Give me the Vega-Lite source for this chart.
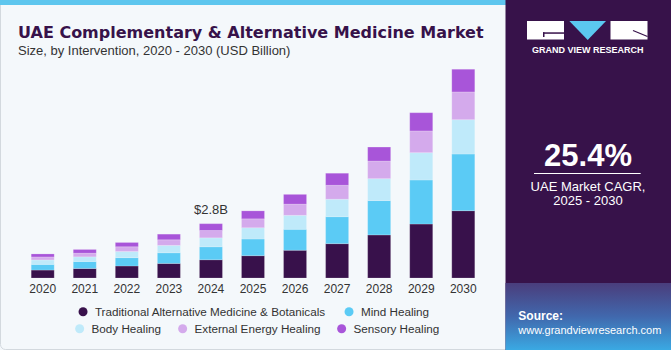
{
  "$schema": "https://vega.github.io/schema/vega-lite/v6.json",
  "width": 671,
  "height": 350,
  "autosize": {"type": "none"},
  "padding": 0,
  "background": "#f4f8fb",
  "config": {"view": {"stroke": null}, "font": "Liberation Sans"},
  "title": {
    "text": "UAE Complementary & Alternative Medicine Market",
    "subtitle": "Size, by Intervention, 2020 - 2030 (USD Billion)",
    "anchor": "start",
    "frame": "group",
    "orient": "top",
    "offset": -58,
    "dx": 18,
    "font": "DejaVu Sans",
    "fontSize": 16,
    "fontWeight": "bold",
    "color": "#37124a",
    "subtitleFont": "Liberation Sans",
    "subtitleFontSize": 13,
    "subtitleColor": "#333333",
    "subtitlePadding": 4
  },
  "datasets": {
    "market": [
      {"year": "2020", "segment": "Traditional Alternative Medicine & Botanicals", "value": 0.41},
      {"year": "2020", "segment": "Mind Healing", "value": 0.29},
      {"year": "2020", "segment": "Body Healing", "value": 0.23},
      {"year": "2020", "segment": "External Energy Healing", "value": 0.155},
      {"year": "2020", "segment": "Sensory Healing", "value": 0.155},
      {"year": "2021", "segment": "Traditional Alternative Medicine & Botanicals", "value": 0.49},
      {"year": "2021", "segment": "Mind Healing", "value": 0.36},
      {"year": "2021", "segment": "Body Healing", "value": 0.24},
      {"year": "2021", "segment": "External Energy Healing", "value": 0.19},
      {"year": "2021", "segment": "Sensory Healing", "value": 0.19},
      {"year": "2022", "segment": "Traditional Alternative Medicine & Botanicals", "value": 0.62},
      {"year": "2022", "segment": "Mind Healing", "value": 0.43},
      {"year": "2022", "segment": "Body Healing", "value": 0.32},
      {"year": "2022", "segment": "External Energy Healing", "value": 0.24},
      {"year": "2022", "segment": "Sensory Healing", "value": 0.22},
      {"year": "2023", "segment": "Traditional Alternative Medicine & Botanicals", "value": 0.75},
      {"year": "2023", "segment": "Mind Healing", "value": 0.55},
      {"year": "2023", "segment": "Body Healing", "value": 0.38},
      {"year": "2023", "segment": "External Energy Healing", "value": 0.29},
      {"year": "2023", "segment": "Sensory Healing", "value": 0.29},
      {"year": "2024", "segment": "Traditional Alternative Medicine & Botanicals", "value": 0.94},
      {"year": "2024", "segment": "Mind Healing", "value": 0.67},
      {"year": "2024", "segment": "Body Healing", "value": 0.46},
      {"year": "2024", "segment": "External Energy Healing", "value": 0.38},
      {"year": "2024", "segment": "Sensory Healing", "value": 0.35},
      {"year": "2025", "segment": "Traditional Alternative Medicine & Botanicals", "value": 1.15},
      {"year": "2025", "segment": "Mind Healing", "value": 0.86},
      {"year": "2025", "segment": "Body Healing", "value": 0.58},
      {"year": "2025", "segment": "External Energy Healing", "value": 0.46},
      {"year": "2025", "segment": "Sensory Healing", "value": 0.41},
      {"year": "2026", "segment": "Traditional Alternative Medicine & Botanicals", "value": 1.43},
      {"year": "2026", "segment": "Mind Healing", "value": 1.08},
      {"year": "2026", "segment": "Body Healing", "value": 0.72},
      {"year": "2026", "segment": "External Energy Healing", "value": 0.58},
      {"year": "2026", "segment": "Sensory Healing", "value": 0.5},
      {"year": "2027", "segment": "Traditional Alternative Medicine & Botanicals", "value": 1.77},
      {"year": "2027", "segment": "Mind Healing", "value": 1.39},
      {"year": "2027", "segment": "Body Healing", "value": 0.9},
      {"year": "2027", "segment": "External Energy Healing", "value": 0.72},
      {"year": "2027", "segment": "Sensory Healing", "value": 0.62},
      {"year": "2028", "segment": "Traditional Alternative Medicine & Botanicals", "value": 2.22},
      {"year": "2028", "segment": "Mind Healing", "value": 1.77},
      {"year": "2028", "segment": "Body Healing", "value": 1.13},
      {"year": "2028", "segment": "External Energy Healing", "value": 0.91},
      {"year": "2028", "segment": "Sensory Healing", "value": 0.72},
      {"year": "2029", "segment": "Traditional Alternative Medicine & Botanicals", "value": 2.78},
      {"year": "2029", "segment": "Mind Healing", "value": 2.27},
      {"year": "2029", "segment": "Body Healing", "value": 1.41},
      {"year": "2029", "segment": "External Energy Healing", "value": 1.12},
      {"year": "2029", "segment": "Sensory Healing", "value": 0.94},
      {"year": "2030", "segment": "Traditional Alternative Medicine & Botanicals", "value": 3.47},
      {"year": "2030", "segment": "Mind Healing", "value": 2.92},
      {"year": "2030", "segment": "Body Healing", "value": 1.77},
      {"year": "2030", "segment": "External Energy Healing", "value": 1.43},
      {"year": "2030", "segment": "Sensory Healing", "value": 1.17}
    ],
    "segments": [
      {"segment": "Traditional Alternative Medicine & Botanicals", "rank": 1},
      {"segment": "Mind Healing", "rank": 2},
      {"segment": "Body Healing", "rank": 3},
      {"segment": "External Energy Healing", "rank": 4},
      {"segment": "Sensory Healing", "rank": 5}
    ],
    "note": [{"year": "2024", "total": 2.8, "label": "$2.8B"}]
  },
  "resolve": {"scale": {"x": "independent", "y": "independent"}},
  "layer": [
    {
      "data": {"values": [{}]},
      "layer": [
        {
          "mark": {"type": "rect", "fill": null, "stroke": "#d3d9de", "strokeWidth": 1, "cornerRadius": 5},
          "encoding": {
            "x": {"datum": 0.5, "type": "quantitative", "scale": {"domain": [0, 671], "range": [0, 671], "nice": false, "zero": false}, "axis": null},
            "x2": {"datum": 512},
            "y": {"datum": 0, "type": "quantitative", "scale": {"domain": [0, 350], "range": [0, 350], "nice": false, "zero": false}, "axis": null},
            "y2": {"datum": 349.5}
          }
        },
        {
          "mark": {"type": "rect", "fill": "#5ec6ee"},
          "encoding": {"x": {"datum": 0}, "x2": {"datum": 506}, "y": {"datum": 0}, "y2": {"datum": 5}}
        },
        {
          "mark": {"type": "rect", "fill": "#37124a"},
          "encoding": {"x": {"datum": 505.5}, "x2": {"datum": 671}, "y": {"datum": 0}, "y2": {"datum": 350}}
        },
        {
          "mark": {"type": "rect", "fill": {"gradient": "linear", "x1": 0, "y1": 0, "x2": 0, "y2": 1, "stops": [{"offset": 0, "color": "#4a3d7c"}, {"offset": 0.5, "color": "#4168ad"}, {"offset": 1, "color": "#3aa9e3"}]}},
          "encoding": {"x": {"datum": 505.5}, "x2": {"datum": 671}, "y": {"datum": 283}, "y2": {"datum": 350}}
        },
        {
          "mark": {"type": "rect", "fill": "#ffffff"},
          "encoding": {"x": {"datum": 527}, "x2": {"datum": 564}, "y": {"datum": 21}, "y2": {"datum": 39.5}}
        },
        {
          "mark": {"type": "rect", "fill": "#37124a"},
          "encoding": {"x": {"datum": 543}, "x2": {"datum": 564}, "y": {"datum": 32.3}, "y2": {"datum": 33.8}}
        },
        {
          "mark": {"type": "rect", "fill": "#37124a"},
          "encoding": {"x": {"datum": 543}, "x2": {"datum": 544.5}, "y": {"datum": 32.3}, "y2": {"datum": 37}}
        },
        {
          "mark": {"type": "point", "shape": "M-1,-0.52L1,-0.52L0,0.52Z", "filled": true, "fill": "#5bc8f0", "opacity": 1, "strokeWidth": 0, "size": 1347},
          "encoding": {"x": {"datum": 587.7}, "y": {"datum": 30.5}}
        },
        {
          "mark": {"type": "rect", "fill": "#ffffff"},
          "encoding": {"x": {"datum": 610.5}, "x2": {"datum": 647.5}, "y": {"datum": 21}, "y2": {"datum": 39.5}}
        },
        {
          "mark": {"type": "rule", "stroke": "#37124a", "strokeWidth": 1.2},
          "encoding": {"x": {"datum": 633}, "x2": {"datum": 647.5}, "y": {"datum": 30.5}, "y2": {"datum": 36.5}}
        },
        {
          "mark": {"type": "text", "text": "GRAND VIEW RESEARCH", "align": "center", "baseline": "alphabetic", "font": "Liberation Sans", "fontWeight": "bold", "fontSize": 9, "letterSpacing": 0.7, "fill": "#ffffff"},
          "encoding": {"x": {"datum": 587.7}, "y": {"datum": 53.3}}
        },
        {
          "mark": {"type": "text", "text": "25.4%", "align": "center", "baseline": "alphabetic", "font": "Liberation Sans", "fontWeight": "bold", "fontSize": 31, "fill": "#ffffff"},
          "encoding": {"x": {"datum": 588}, "y": {"datum": 166}}
        },
        {
          "mark": {"type": "rule", "stroke": "#ffffff", "strokeWidth": 1},
          "encoding": {"x": {"datum": 534}, "x2": {"datum": 640.7}, "y": {"datum": 173.5}}
        },
        {
          "mark": {"type": "text", "text": "UAE Market CAGR,", "align": "center", "baseline": "alphabetic", "font": "Liberation Sans", "fontSize": 13, "fill": "#ffffff"},
          "encoding": {"x": {"datum": 588}, "y": {"datum": 190.5}}
        },
        {
          "mark": {"type": "text", "text": "2025 - 2030", "align": "center", "baseline": "alphabetic", "font": "Liberation Sans", "fontSize": 13, "fill": "#ffffff"},
          "encoding": {"x": {"datum": 588}, "y": {"datum": 205}}
        },
        {
          "mark": {"type": "text", "text": "Source:", "align": "left", "baseline": "alphabetic", "font": "Liberation Sans", "fontWeight": "bold", "fontSize": 12, "fill": "#ffffff"},
          "encoding": {"x": {"datum": 518.3}, "y": {"datum": 320}}
        },
        {
          "mark": {"type": "text", "text": "www.grandviewresearch.com", "align": "left", "baseline": "alphabetic", "font": "Liberation Sans", "fontSize": 11, "letterSpacing": -0.2, "fill": "#ffffff"},
          "encoding": {"x": {"datum": 518.3}, "y": {"datum": 333.5}}
        }
      ]
    },
    {
      "data": {"name": "market"},
      "transform": [
        {"lookup": "segment", "from": {"data": {"name": "segments"}, "key": "segment", "fields": ["rank"]}},
        {"stack": "value", "groupby": ["year"], "sort": [{"field": "rank", "order": "ascending"}], "as": ["v0", "v1"]}
      ],
      "layer": [
        {
          "transform": [{"filter": {"field": "segment", "oneOf": ["Traditional Alternative Medicine & Botanicals", "Mind Healing"]}}],
          "mark": {"type": "bar", "stroke": "#ffffff", "strokeOpacity": 0.3, "strokeWidth": 0.6},
          "encoding": {
            "x": {"field": "year", "type": "ordinal", "scale": {"range": [0, 506], "paddingInner": 0.453, "paddingOuter": 0.742},
              "axis": {"title": null, "orient": "bottom", "offset": -72, "domain": false, "ticks": false, "labelPadding": 5, "labelFontSize": 12, "labelColor": "#333333", "labelFont": "Liberation Sans", "labelAngle": 0}},
            "y": {"field": "v1", "type": "quantitative", "scale": {"domain": [0, 11.237], "range": [278, 60], "nice": false}, "axis": null},
            "y2": {"field": "v0"},
            "color": {"field": "segment", "type": "nominal",
              "scale": {"domain": ["Traditional Alternative Medicine & Botanicals", "Mind Healing"], "range": ["#38114b", "#5bcbf5"]},
              "legend": {"orient": "none", "legendX": 77.2, "legendY": 305.7, "direction": "horizontal", "title": null, "symbolType": "circle", "symbolSize": 81, "symbolStrokeWidth": 0, "labelFont": "Liberation Sans", "labelFontSize": 11.7, "labelColor": "#333333", "labelOffset": 6, "columnPadding": 17, "labelLimit": 400}}
          }
        },
        {
          "transform": [{"filter": {"field": "segment", "oneOf": ["Body Healing", "External Energy Healing", "Sensory Healing"]}}],
          "mark": {"type": "bar", "stroke": "#ffffff", "strokeOpacity": 0.3, "strokeWidth": 0.6},
          "encoding": {
            "x": {"field": "year", "type": "ordinal"},
            "y": {"field": "v1", "type": "quantitative"},
            "y2": {"field": "v0"},
            "fill": {"field": "segment", "type": "nominal",
              "scale": {"domain": ["Body Healing", "External Energy Healing", "Sensory Healing"], "range": ["#bfeafa", "#d4aaec", "#a855d9"]},
              "legend": {"orient": "none", "legendX": 73.8, "legendY": 322.7, "direction": "horizontal", "title": null, "symbolType": "circle", "symbolSize": 81, "symbolStrokeWidth": 0, "labelFont": "Liberation Sans", "labelFontSize": 11.7, "labelColor": "#333333", "labelOffset": 6, "columnPadding": 15, "labelLimit": 400}}
          }
        },
        {
          "data": {"name": "note"},
          "mark": {"type": "text", "baseline": "alphabetic", "align": "center", "dy": -10, "font": "Liberation Sans", "fontSize": 13, "fill": "#333333"},
          "encoding": {
            "x": {"field": "year", "type": "ordinal"},
            "y": {"field": "total", "type": "quantitative"},
            "text": {"field": "label"}
          }
        }
      ]
    }
  ]
}
